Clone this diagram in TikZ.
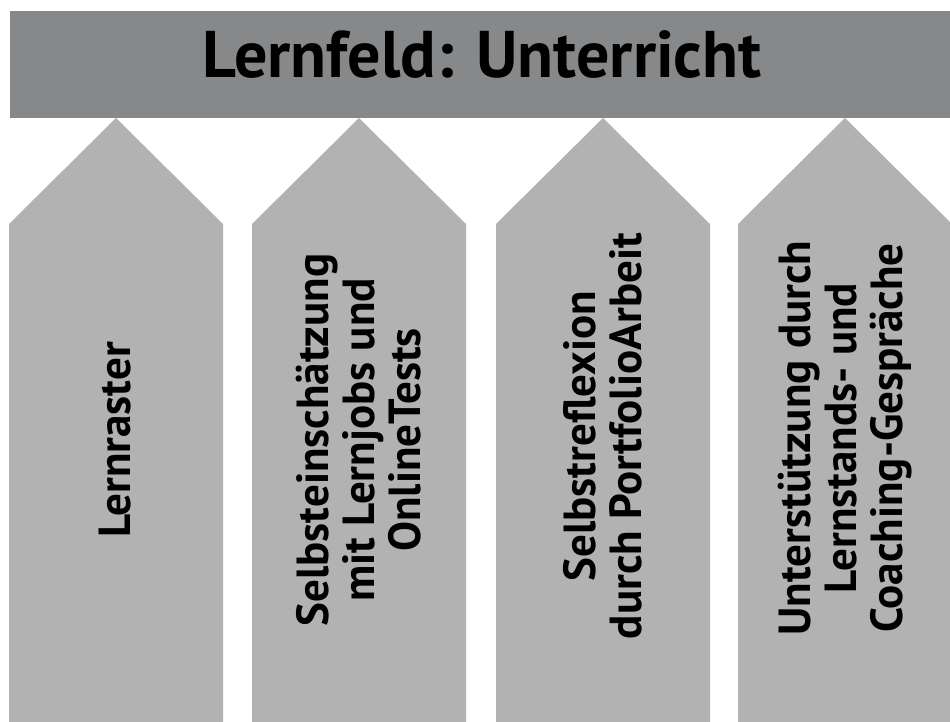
\documentclass[tikz,border=0pt]{standalone}
\usepackage{fontspec}
\setmainfont{PT Sans}
\definecolor{bannergray}{HTML}{87888A}
\definecolor{arrowgray}{HTML}{B2B2B2}
\begin{document}
\begin{tikzpicture}[x=1pt,y=-1pt,
  banner/.style={fill=bannergray,draw=none},
  uparrow/.style={fill=arrowgray,draw=none},
  arrowtext/.style={rotate=90,align=center,inner sep=0pt,font=\bfseries\fontsize{45}{46}\selectfont,text=black},
  titletext/.style={anchor=base,inner sep=0pt,font=\bfseries\fontsize{66}{68}\selectfont,text=black}]
\useasboundingbox (0,0) rectangle (950,722);
\clip (0,0) rectangle (950,722);
% banner
\fill[banner] (10,11) rectangle (950,118);
\node[titletext] (title) at (482,78) {Lernfeld: Unterricht};
% arrows
\foreach \xl/\name in {9/a1,252/a2,496/a3,738/a4}{
  \fill[uparrow] (\xl,722) -- (\xl,224) -- (\xl+107,118) -- (\xl+214,224) -- (\xl+214,722) -- cycle;
}
\node[arrowtext] (t1) at (115,440) {Lernraster};
\node[arrowtext] (t2) at (359,440) {Selbsteinschätzung\\mit Lernjobs und\\OnlineTests};
\node[arrowtext] (t3) at (603,436) {Selbstreflexion\\durch PortfolioArbeit};
\node[arrowtext] (t4) at (845,438) {Unterstützung durch\\Lernstands- und\\Coaching-Gespräche};
\end{tikzpicture}
\end{document}
